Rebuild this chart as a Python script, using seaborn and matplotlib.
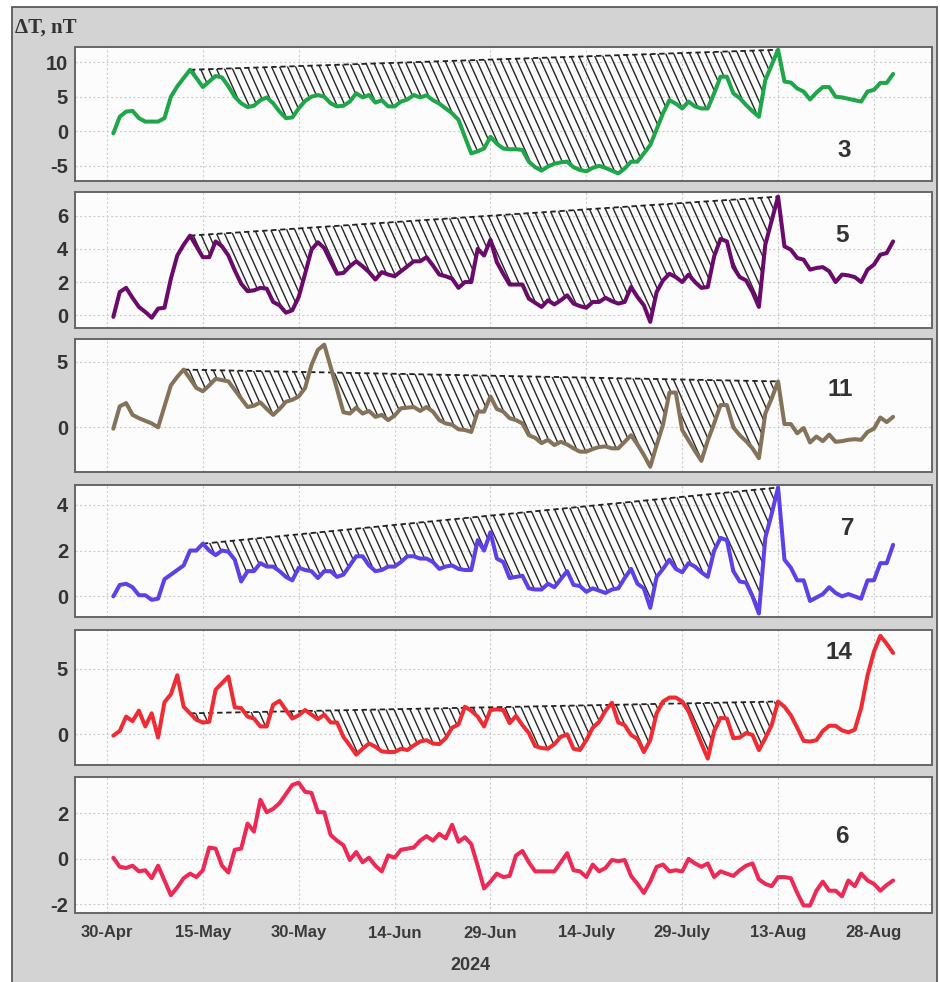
import numpy as np
import pandas as pd
import matplotlib
matplotlib.use("Agg")
from matplotlib import pyplot as plt
from matplotlib import dates as mdates
from matplotlib.collections import LineCollection
from matplotlib.path import Path
from matplotlib.patches import Rectangle
import seaborn as sb

# daily values, 1 May .. 31 Aug 2024
days = pd.date_range("2024-05-01", "2024-08-31", freq="D")

station_3 = [-0.3, 2.1, 2.85, 2.95, 1.9, 1.4, 1.4, 1.4, 1.9, 5.0, 6.5, 7.7, 8.9, 7.7, 6.4, 7.2,
             8.0, 7.8, 6.5, 5.0, 4.05, 3.5, 3.7, 4.5, 4.9, 4.05, 2.85, 1.9, 2.0, 3.3, 4.4, 5.0,
             5.25, 5.0, 4.05, 3.6, 3.7, 4.3, 5.5, 4.9, 5.25, 4.15, 4.5, 3.6, 3.6, 4.3, 4.6, 5.25,
             4.9, 5.2, 4.5, 4.0, 3.3, 2.6, 1.65, -0.8,
             -3.2, -2.9, -2.5, -0.8, -1.8, -2.5, -2.6, -2.6, -2.7, -4.4, -5.2, -5.7, -5.1, -4.7,
             -4.5, -4.4, -5.2, -5.6, -5.8, -5.3, -5.0, -5.3, -5.7, -6.1, -5.4, -4.4, -4.4, -3.2,
             -2.0, 0.3, 2.6, 4.5, 4.0, 3.3, 4.3, 3.6, 3.3, 3.3, 5.5, 7.9, 7.9, 5.5, 4.8, 3.8,
             2.9, 2.1, 7.4, 9.6, 11.8, 7.2, 7.05, 6.2, 5.75, 4.6, 5.6, 6.4, 6.4, 5.0, 4.9, 4.7,
             4.5, 4.3, 5.75, 6.0, 7.0, 7.0, 8.3]

station_5 = [-0.1, 1.4, 1.65, 1.05, 0.5, 0.2, -0.15, 0.4, 0.45, 2.2, 3.6, 4.25, 4.8, 4.15, 3.5,
             3.5, 4.45, 4.15, 3.6, 2.7, 1.9, 1.45, 1.5, 1.65, 1.6, 0.8, 0.6, 0.15, 0.3, 1.1, 2.5,
             3.95, 4.4, 4.05, 3.25, 2.5, 2.55, 2.95, 3.25, 2.95, 2.6, 2.15, 2.6, 2.45, 2.35, 2.65,
             2.95, 3.25, 3.25, 3.5, 3.0, 2.45, 2.35, 2.2, 1.65, 2.0,
             2.0, 4.0, 3.6, 4.55, 3.2, 2.5, 1.85, 1.85, 1.85, 1.0, 0.75, 0.5, 0.9, 0.65, 0.9,
             1.2, 0.7, 0.55, 0.45, 0.8, 0.8, 1.05, 0.85, 0.7, 0.8, 1.7, 1.1, 0.6, -0.4, 1.4,
             2.1, 2.5, 2.3, 2.0, 2.45, 2.0, 1.65, 1.7, 3.55, 4.6, 4.45, 2.9, 2.3, 2.1, 1.4,
             0.5, 4.25, 5.7, 7.15, 4.15, 3.95, 3.45, 3.35, 2.75, 2.85, 2.9, 2.65, 2.0, 2.45,
             2.4, 2.3, 2.0, 2.75, 3.05, 3.65, 3.75, 4.45]

station_11 = [-0.1, 1.6, 1.85, 0.95, 0.7, 0.5, 0.3, 0.0, 1.6, 3.2, 3.85, 4.4, 3.7, 3.0, 2.75,
              3.2, 3.7, 3.6, 3.5, 2.85, 2.2, 1.55, 1.65, 1.9, 1.4, 0.95, 1.4, 1.95, 2.1, 2.35,
              3.0, 4.75, 5.9, 6.3, 4.6, 2.9, 1.15, 1.05, 1.5, 1.05, 1.25, 0.8, 0.95, 0.55, 0.9,
              1.45, 1.5, 1.55, 1.25, 1.55, 1.2, 0.55, 0.3, 0.2, -0.15, -0.2,
              -0.35, 1.2, 1.2, 2.35, 1.4, 1.2, 0.7, 0.55, 0.3, -0.6, -0.8, -1.2, -0.95, -1.35,
              -1.1, -1.3, -1.6, -1.85, -1.85, -1.65, -1.5, -1.45, -1.6, -1.6, -1.1, -0.6, -1.3,
              -2.1, -3.0, -1.35, 0.2, 2.65, 2.65, -0.2, -1.0, -1.8, -2.55, -1.0, 0.3, 1.7, 1.7,
              0.0, -0.6, -1.05, -1.6, -2.35, 1.05, 2.2, 3.5, 0.25, 0.25, -0.45, -0.05, -1.15,
              -0.7, -1.05, -0.55, -1.1, -1.05, -0.95, -0.9, -0.95, -0.35, -0.1, 0.75, 0.4, 0.8]

station_7 = [0.0, 0.5, 0.55, 0.4, 0.05, 0.05, -0.15, -0.1, 0.75, 0.95, 1.15, 1.35, 2.0, 2.0, 2.3,
             2.0, 1.8, 2.0, 1.95, 1.6, 0.65, 1.1, 1.1, 1.45, 1.3, 1.3, 1.1, 0.85, 0.7, 1.25, 1.15,
             1.1, 0.8, 1.1, 1.1, 0.85, 0.95, 1.35, 1.75, 1.75, 1.35, 1.1, 1.15, 1.3, 1.3, 1.5,
             1.75, 1.75, 1.65, 1.65, 1.5, 1.2, 1.3, 1.35, 1.2, 1.15,
             1.15, 2.45, 2.0, 2.8, 1.65, 1.5, 0.8, 0.85, 0.9, 0.35, 0.3, 0.3, 0.55, 0.4, 0.75,
             1.1, 0.5, 0.45, 0.2, 0.35, 0.25, 0.15, 0.3, 0.35, 0.8, 1.2, 0.55, 0.35, -0.5, 0.85,
             1.2, 1.6, 1.2, 1.05, 1.45, 1.3, 1.05, 0.85, 2.0, 2.55, 2.45, 1.1, 0.65, 0.6, 0.0,
             -0.75, 2.55, 3.6, 4.75, 1.6, 1.25, 0.7, 0.7, -0.2, -0.05, 0.1, 0.4, 0.15, 0.0, 0.1,
             0.0, -0.1, 0.7, 0.7, 1.45, 1.45, 2.25]

station_14 = [-0.1, 0.25, 1.35, 1.0, 1.8, 0.6, 1.6, -0.25, 2.45, 3.05, 4.5, 2.1, 1.6, 1.1, 0.9,
              0.95, 3.4, 3.9, 4.4, 2.05, 2.0, 1.35, 1.2, 0.6, 0.6, 2.25, 2.55, 1.85, 1.2, 1.45,
              1.85, 1.5, 1.15, 1.5, 0.9, 0.9, -0.2, -0.85, -1.55, -1.1, -0.7, -0.95, -1.3, -1.35,
              -1.35, -1.1, -1.2, -0.85, -0.55, -0.45, -0.7, -0.75, -0.3, 0.5, 0.75, 2.1,
              1.8, 1.35, 0.6, 1.85, 1.9, 1.85, 0.85, 1.4, 0.7, 0.1, -0.9, -1.05, -1.1, -0.75,
              -0.2, 0.0, -1.1, -1.2, -0.45, 0.5, 0.95, 1.8, 2.4, 0.9, 0.7, -0.05, -0.35, -1.35,
              -0.45, 1.6, 2.5, 2.8, 2.8, 2.5, 1.75, 0.5, -0.7, -1.85, 0.25, 1.25, 1.2, -0.3,
              -0.25, 0.1, -0.05, -1.2, -0.3, 0.7, 2.5, 2.1, 1.45, 0.5, -0.5, -0.55, -0.45, 0.25,
              0.65, 0.65, 0.3, 0.15, 0.35, 2.0, 4.5, 6.3, 7.5, 6.9, 6.2]

station_6 = [0.05, -0.35, -0.4, -0.3, -0.55, -0.5, -0.85, -0.3, -0.95, -1.6, -1.25, -0.85, -0.65,
             -0.8, -0.5, 0.5, 0.45, -0.3, -0.6, 0.4, 0.45, 1.55, 1.2, 2.6, 2.05, 2.2, 2.45, 2.85,
             3.25, 3.35, 2.95, 2.9, 2.05, 2.05, 1.05, 0.8, 0.6, -0.05, 0.3, -0.15, 0.05, -0.3,
             -0.55, 0.15, 0.05, 0.4, 0.45, 0.5, 0.8, 1.0, 0.8, 1.1, 0.9, 1.5, 0.75, 0.95,
             0.65, -0.3, -1.3, -1.0, -0.65, -0.8, -0.75, 0.15, 0.35, -0.15, -0.55, -0.55, -0.55,
             -0.55, -0.15, 0.25, -0.5, -0.55, -0.8, -0.25, -0.55, -0.4, -0.05, -0.1, -0.05,
             -0.75, -1.1, -1.5, -1.0, -0.35, -0.25, -0.55, -0.5, -0.55, 0.0, -0.2, -0.35, -0.2,
             -0.8, -0.55, -0.65, -0.75, -0.5, -0.3, -0.2, -0.9, -1.1, -1.2, -0.8, -0.8, -0.85,
             -1.5, -2.05, -2.05, -1.4, -1.0, -1.4, -1.4, -1.65, -0.95, -1.2, -0.65, -0.95, -1.1,
             -1.4, -1.15, -0.95]

names = ["3", "5", "11", "7", "14", "6"]
series = [station_3, station_5, station_11, station_7, station_14, station_6]
# first and last day index of the hatched "depression" (None = no hatching)
spans = [(12, 104), (12, 104), (11, 104), (14, 104), (12, 104), None]

tick_dates = ["2024-04-30", "2024-05-15", "2024-05-30", "2024-06-14", "2024-06-29",
              "2024-07-14", "2024-07-29", "2024-08-13", "2024-08-28"]
tick_labels = ["30-Apr", "15-May", "30-May", "14-Jun", "29-Jun",
               "14-July", "29-July", "13-Aug", "28-Aug"]

colors = ["#1fa64a", "#6a0b6c", "#85725a", "#5f40e6", "#ee2c33", "#ec2a55"]
ylims = [(-7.2, 12.2), (-0.77, 7.43), (-3.4, 6.73), (-0.9, 4.86), (-2.34, 7.95), (-2.38, 3.6)]
yticks = [[-5, 0, 5, 10], [0, 2, 4, 6], [0, 5], [0, 2, 4], [0, 5], [-2, 0, 2]]
# panel extents in pixels (top, bottom) and label positions in axes fractions
rows_px = [(47, 181), (192, 328), (339, 472), (485, 617), (630, 765), (777, 913)]
label_pos = [(0.898, 0.226), (0.895, 0.679), (0.893, 0.624), (0.902, 0.672),
             (0.891, 0.835), (0.895, 0.566)]

W_PX, H_PX = 940, 982
LEFT_PX, RIGHT_PX = 75, 932

sb.set_theme(style="whitegrid")
plt.rcParams["font.family"] = ["Liberation Sans", "DejaVu Sans"]
plt.rcParams["font.weight"] = "bold"
plt.rcParams["axes.unicode_minus"] = False

df = pd.DataFrame({"date": days})
for name, vals in zip(names, series):
    df[name] = vals


def add_hatch(ax, x, y, i0, i1):
    xs = mdates.date2num(x[i0:i1 + 1])
    ys = np.asarray(y[i0:i1 + 1])
    chord = np.interp(xs, [xs[0], xs[-1]], [ys[0], ys[-1]])
    poly = ax.fill_between(xs, ys, chord, where=ys <= chord + 1e-9, interpolate=True,
                           facecolor="none", edgecolor="none", linewidth=0)
    clip = Path.make_compound_path(*poly.get_paths())
    bb = ax.get_position()
    w = bb.width * W_PX
    h = bb.height * H_PX
    shift = 0.45 * h
    starts = np.arange(-shift, w + 10, 8.0)
    segs = [[(s / w, 1.0), ((s + shift) / w, 0.0)] for s in starts]
    lc = LineCollection(segs, transform=ax.transAxes, colors="#262626", linewidths=1.0,
                        zorder=2)
    lc.set_clip_path(clip, ax.transData)
    ax.add_collection(lc, autolim=False)
    ax.plot([xs[0], xs[-1]], [ys[0], ys[-1]], color="#222222", lw=1.3,
            ls=(0, (3, 2)), zorder=3)


fig = plt.figure(figsize=(W_PX / 100, H_PX / 100), dpi=100)
fig.patch.set_facecolor("white")
fig.patches.append(Rectangle((12 / W_PX, -0.01), (937 - 12) / W_PX, 1.01 - 7 / H_PX,
                             transform=fig.transFigure, facecolor="#d3d3d3",
                             edgecolor="#5a5a5a", linewidth=1.3, zorder=-5))

xmin = mdates.date2num(pd.Timestamp("2024-04-25"))
xmax = mdates.date2num(pd.Timestamp("2024-09-06 02:00"))

axes = []
for k, name in enumerate(names):
    top, bot = rows_px[k]
    ax = fig.add_axes([LEFT_PX / W_PX, 1 - bot / H_PX, (RIGHT_PX - LEFT_PX) / W_PX,
                       (bot - top) / H_PX])
    ax.set_facecolor("#fcfcfc")
    sb.lineplot(data=df, x="date", y=name, ax=ax, color=colors[k], linewidth=2.9,
                zorder=4)
    if spans[k] is not None:
        add_hatch(ax, days, series[k], spans[k][0], spans[k][1])
    ax.set_xlim(xmin, xmax)
    ax.set_ylim(*ylims[k])
    ax.set_yticks(yticks[k])
    ax.set_xticks(mdates.date2num(pd.to_datetime(tick_dates)))
    if k == len(names) - 1:
        ax.set_xticklabels(tick_labels)
    else:
        ax.set_xticklabels([])
    ax.set_xlabel("")
    ax.set_ylabel("")
    ax.grid(True, color="#cdcdcd", linestyle=(0, (2, 2)), linewidth=0.8)
    ax.tick_params(axis="y", length=0, labelsize=14.5, pad=5, labelcolor="#333333")
    ax.tick_params(axis="x", length=0, labelsize=12, pad=9, labelcolor="#3a3a3a")
    for sp in ax.spines.values():
        sp.set_color("#666666")
        sp.set_linewidth(1.4)
    ax.text(label_pos[k][0], label_pos[k][1], name, transform=ax.transAxes,
            ha="center", va="center", fontsize=17.5, fontweight="bold", color="#333333")
    axes.append(ax)

fig.text(15 / W_PX, 1 - 28 / H_PX, "\u0394T, nT", ha="left", va="center", fontsize=15,
         fontweight="bold", color="#333333", family=["Liberation Serif", "DejaVu Serif"])
fig.text(470 / W_PX, 1 - 965 / H_PX, "2024", ha="center", va="center", fontsize=13,
         fontweight="bold", color="#3a3a3a")

fig.savefig("out.png", dpi=100)
